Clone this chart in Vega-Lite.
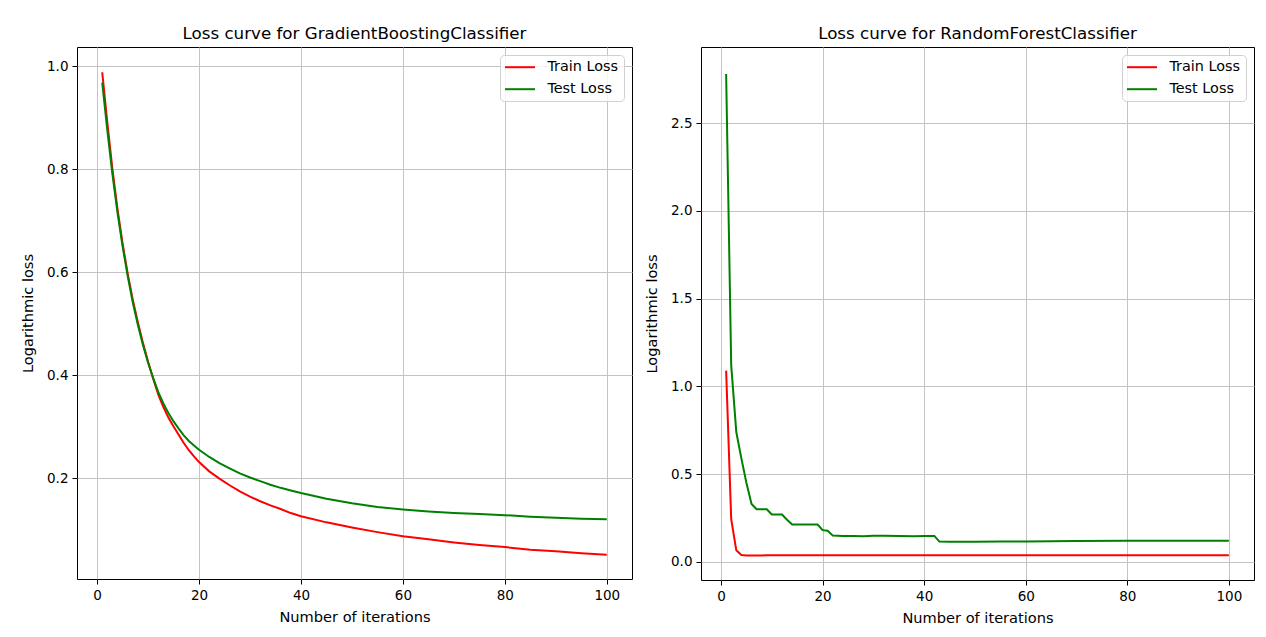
{
  "$schema": "https://vega.github.io/schema/vega-lite/v6.json",
  "padding": {"left": 20, "top": 25, "right": 12, "bottom": 8},
  "spacing": 11,
  "background": "white",
  "config": {
    "font": "DejaVu Sans",
    "view": {"stroke": "#000000", "strokeWidth": 1},
    "axis": {
      "labelFontSize": 13.5, "titleFontSize": 14.6, "labelColor": "#000000", "titleColor": "#000000",
      "titleFontWeight": "normal", "gridColor": "#c4c4c4", "gridWidth": 1, "tickColor": "#000000",
      "tickSize": 5, "domain": false, "labelPadding": 4, "labelFont": "DejaVu Sans", "titleFont": "DejaVu Sans"
    },
    "axisX": {"titlePadding": 8},
    "axisY": {"titlePadding": 11},
    "title": {"fontSize": 16.7, "fontWeight": "normal", "offset": 4, "anchor": "middle", "color": "#000000", "font": "DejaVu Sans"},
    "legend": {
      "labelFontSize": 14.4, "labelColor": "#000000", "symbolType": "M-1.2,0H3.8", "symbolSize": 144, "symbolStrokeWidth": 2,
      "fillColor": "rgba(255,255,255,0.8)", "strokeColor": "#d0d0d0", "cornerRadius": 4, "padding": 5,
      "rowPadding": 7, "offset": 8, "labelOffset": 28, "labelFont": "DejaVu Sans"
    }
  },
  "datasets": {
    "gb": [
      {"i": 1, "Train Loss": 0.988, "Test Loss": 0.968},
      {"i": 2, "Train Loss": 0.890, "Test Loss": 0.875},
      {"i": 3, "Train Loss": 0.800, "Test Loss": 0.790},
      {"i": 4, "Train Loss": 0.722, "Test Loss": 0.715},
      {"i": 5, "Train Loss": 0.655, "Test Loss": 0.650},
      {"i": 6, "Train Loss": 0.597, "Test Loss": 0.592},
      {"i": 7, "Train Loss": 0.546, "Test Loss": 0.541},
      {"i": 8, "Train Loss": 0.502, "Test Loss": 0.497},
      {"i": 9, "Train Loss": 0.462, "Test Loss": 0.458},
      {"i": 10, "Train Loss": 0.426, "Test Loss": 0.424},
      {"i": 11, "Train Loss": 0.393, "Test Loss": 0.394},
      {"i": 12, "Train Loss": 0.362, "Test Loss": 0.367},
      {"i": 13, "Train Loss": 0.338, "Test Loss": 0.345},
      {"i": 14, "Train Loss": 0.317, "Test Loss": 0.326},
      {"i": 15, "Train Loss": 0.300, "Test Loss": 0.310},
      {"i": 16, "Train Loss": 0.284, "Test Loss": 0.296},
      {"i": 17, "Train Loss": 0.268, "Test Loss": 0.283},
      {"i": 18, "Train Loss": 0.254, "Test Loss": 0.272},
      {"i": 19, "Train Loss": 0.242, "Test Loss": 0.263},
      {"i": 20, "Train Loss": 0.231, "Test Loss": 0.255},
      {"i": 22, "Train Loss": 0.213, "Test Loss": 0.241},
      {"i": 24, "Train Loss": 0.199, "Test Loss": 0.229},
      {"i": 26, "Train Loss": 0.186, "Test Loss": 0.219},
      {"i": 28, "Train Loss": 0.174, "Test Loss": 0.209},
      {"i": 30, "Train Loss": 0.164, "Test Loss": 0.201},
      {"i": 32, "Train Loss": 0.155, "Test Loss": 0.194},
      {"i": 34, "Train Loss": 0.147, "Test Loss": 0.187},
      {"i": 36, "Train Loss": 0.140, "Test Loss": 0.181},
      {"i": 38, "Train Loss": 0.132, "Test Loss": 0.176},
      {"i": 40, "Train Loss": 0.126, "Test Loss": 0.171},
      {"i": 45, "Train Loss": 0.114, "Test Loss": 0.160},
      {"i": 50, "Train Loss": 0.104, "Test Loss": 0.151},
      {"i": 55, "Train Loss": 0.095, "Test Loss": 0.144},
      {"i": 60, "Train Loss": 0.087, "Test Loss": 0.139},
      {"i": 65, "Train Loss": 0.081, "Test Loss": 0.135},
      {"i": 70, "Train Loss": 0.075, "Test Loss": 0.132},
      {"i": 75, "Train Loss": 0.070, "Test Loss": 0.130},
      {"i": 80, "Train Loss": 0.066, "Test Loss": 0.128},
      {"i": 85, "Train Loss": 0.061, "Test Loss": 0.125},
      {"i": 90, "Train Loss": 0.058, "Test Loss": 0.123},
      {"i": 95, "Train Loss": 0.054, "Test Loss": 0.121},
      {"i": 100, "Train Loss": 0.051, "Test Loss": 0.120}
    ],
    "rf": [
      {"i": 1, "Train Loss": 1.090, "Test Loss": 2.780},
      {"i": 2, "Train Loss": 0.243, "Test Loss": 1.120},
      {"i": 3, "Train Loss": 0.066, "Test Loss": 0.740},
      {"i": 4, "Train Loss": 0.039, "Test Loss": 0.590},
      {"i": 5, "Train Loss": 0.037, "Test Loss": 0.450},
      {"i": 6, "Train Loss": 0.037, "Test Loss": 0.330},
      {"i": 7, "Train Loss": 0.037, "Test Loss": 0.300},
      {"i": 8, "Train Loss": 0.037, "Test Loss": 0.300},
      {"i": 9, "Train Loss": 0.038, "Test Loss": 0.300},
      {"i": 10, "Train Loss": 0.038, "Test Loss": 0.270},
      {"i": 11, "Train Loss": 0.038, "Test Loss": 0.270},
      {"i": 12, "Train Loss": 0.038, "Test Loss": 0.270},
      {"i": 13, "Train Loss": 0.038, "Test Loss": 0.240},
      {"i": 14, "Train Loss": 0.038, "Test Loss": 0.213},
      {"i": 15, "Train Loss": 0.038, "Test Loss": 0.213},
      {"i": 16, "Train Loss": 0.038, "Test Loss": 0.213},
      {"i": 17, "Train Loss": 0.038, "Test Loss": 0.213},
      {"i": 18, "Train Loss": 0.038, "Test Loss": 0.213},
      {"i": 19, "Train Loss": 0.038, "Test Loss": 0.213},
      {"i": 20, "Train Loss": 0.038, "Test Loss": 0.181},
      {"i": 21, "Train Loss": 0.038, "Test Loss": 0.178},
      {"i": 22, "Train Loss": 0.038, "Test Loss": 0.150},
      {"i": 24, "Train Loss": 0.038, "Test Loss": 0.148},
      {"i": 26, "Train Loss": 0.038, "Test Loss": 0.147},
      {"i": 28, "Train Loss": 0.038, "Test Loss": 0.146},
      {"i": 30, "Train Loss": 0.038, "Test Loss": 0.149},
      {"i": 32, "Train Loss": 0.038, "Test Loss": 0.149},
      {"i": 35, "Train Loss": 0.038, "Test Loss": 0.147},
      {"i": 38, "Train Loss": 0.038, "Test Loss": 0.146},
      {"i": 40, "Train Loss": 0.038, "Test Loss": 0.147},
      {"i": 42, "Train Loss": 0.038, "Test Loss": 0.148},
      {"i": 43, "Train Loss": 0.038, "Test Loss": 0.116},
      {"i": 45, "Train Loss": 0.038, "Test Loss": 0.115},
      {"i": 50, "Train Loss": 0.038, "Test Loss": 0.115},
      {"i": 55, "Train Loss": 0.038, "Test Loss": 0.116},
      {"i": 60, "Train Loss": 0.038, "Test Loss": 0.117},
      {"i": 70, "Train Loss": 0.038, "Test Loss": 0.119},
      {"i": 80, "Train Loss": 0.038, "Test Loss": 0.120},
      {"i": 90, "Train Loss": 0.038, "Test Loss": 0.120},
      {"i": 100, "Train Loss": 0.038, "Test Loss": 0.121}
    ]
  },
  "hconcat": [
    {
      "title": "Loss curve for GradientBoostingClassifier",
      "width": 555, "height": 532,
      "data": {"name": "gb"},
      "transform": [{"fold": ["Train Loss", "Test Loss"], "as": ["series", "loss"]}],
      "mark": {"type": "line", "strokeWidth": 2},
      "encoding": {
        "x": {"field": "i", "type": "quantitative", "scale": {"domain": [-3.95, 104.95], "nice": false, "zero": false},
              "axis": {"values": [0, 20, 40, 60, 80, 100], "title": "Number of iterations"}},
        "y": {"field": "loss", "type": "quantitative", "scale": {"domain": [0.004, 1.037], "nice": false, "zero": false},
              "axis": {"values": [0.2, 0.4, 0.6, 0.8, 1.0], "format": ".1f", "title": "Logarithmic loss"}},
        "color": {"field": "series", "type": "nominal",
                  "scale": {"domain": ["Train Loss", "Test Loss"], "range": ["#ff0000", "#008000"]},
                  "legend": {"title": null, "orient": "top-right"}}
      }
    },
    {
      "title": "Loss curve for RandomForestClassifier",
      "width": 553, "height": 533,
      "data": {"name": "rf"},
      "transform": [{"fold": ["Train Loss", "Test Loss"], "as": ["series", "loss"]}],
      "mark": {"type": "line", "strokeWidth": 2},
      "encoding": {
        "x": {"field": "i", "type": "quantitative", "scale": {"domain": [-3.95, 104.95], "nice": false, "zero": false},
              "axis": {"values": [0, 20, 40, 60, 80, 100], "title": "Number of iterations"}},
        "y": {"field": "loss", "type": "quantitative", "scale": {"domain": [-0.103, 2.934], "nice": false, "zero": false},
              "axis": {"values": [0.0, 0.5, 1.0, 1.5, 2.0, 2.5], "format": ".1f", "title": "Logarithmic loss"}},
        "color": {"field": "series", "type": "nominal",
                  "scale": {"domain": ["Train Loss", "Test Loss"], "range": ["#ff0000", "#008000"]},
                  "legend": {"title": null, "orient": "top-right"}}
      }
    }
  ],
  "resolve": {"scale": {"color": "independent"}, "legend": {"color": "independent"}}
}
